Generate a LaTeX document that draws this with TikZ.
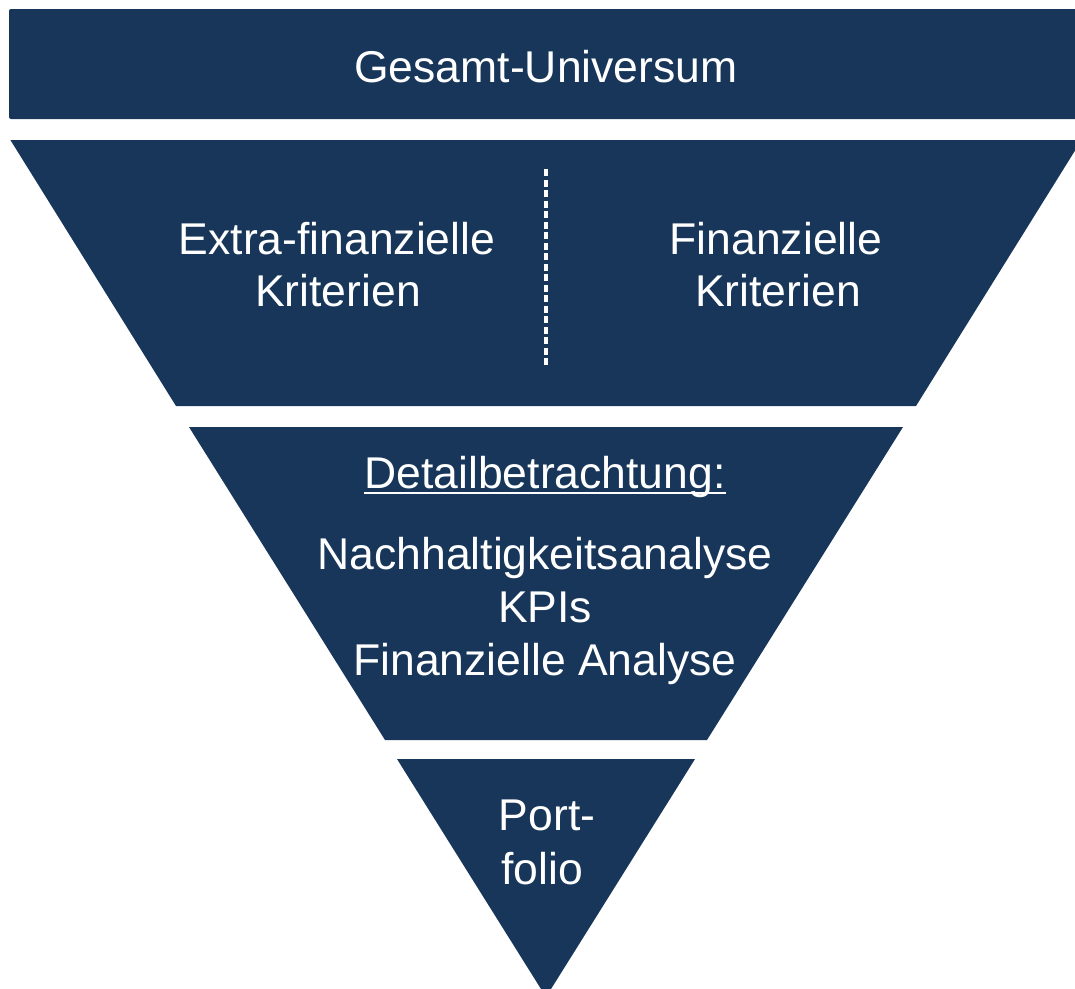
\documentclass[tikz,border=0pt]{standalone}
\usepackage{fontspec}
\setmainfont{Liberation Sans}
\definecolor{navy}{RGB}{23,54,89}
\begin{document}
\begin{tikzpicture}[x=1pt,y=-1pt,
  band/.style={fill=navy,draw=none},
  lbl/.style={text=white,inner sep=0pt,anchor=base,font=\fontsize{44.5}{53}\selectfont}]
\useasboundingbox (0,0) rectangle (1075,988);
% top bar
\fill[band,rounded corners=2pt] (9,9) rectangle (1085,119);
% funnel pieces (apex 546,997)
\fill[band] (10.4,140) -- (1081.6,140) -- (916,406) -- (176,406) -- cycle;
\fill[band] (189,427) -- (903,427) -- (707,740) -- (385,740) -- cycle;
\fill[band] (397,759) -- (695,759) -- (546,997) -- cycle;
% texts
\node[lbl] (gu) at (546,82) {Gesamt-Universum};
\node[lbl] (ef1) at (337,254) {Extra-finanzielle};
\node[lbl] (ef2) at (338,306) {Kriterien};
\node[lbl] (f1) at (776,254) {Finanzielle};
\node[lbl] (f2) at (778,306) {Kriterien};
\coordinate (dtop) at (546,169);
\coordinate (dbot) at (546,368);
\draw[white,line width=3.5pt,dash pattern=on 7pt off 3.5pt] (dtop) -- (dbot);
\node[lbl] (det) at (545,488) {Detailbetrachtung:};
\draw[white,line width=2pt] ([yshift=-5pt]det.base west) -- ([yshift=-5pt]det.base east);
\node[lbl] (n1) at (545,569) {Nachhaltigkeitsanalyse};
\node[lbl] (n2) at (545,622) {KPIs};
\node[lbl] (n3) at (545,675) {Finanzielle Analyse};
\node[lbl] (p1) at (547,830) {Port-};
\node[lbl] (p2) at (542,884) {folio};
\end{tikzpicture}
\end{document}
